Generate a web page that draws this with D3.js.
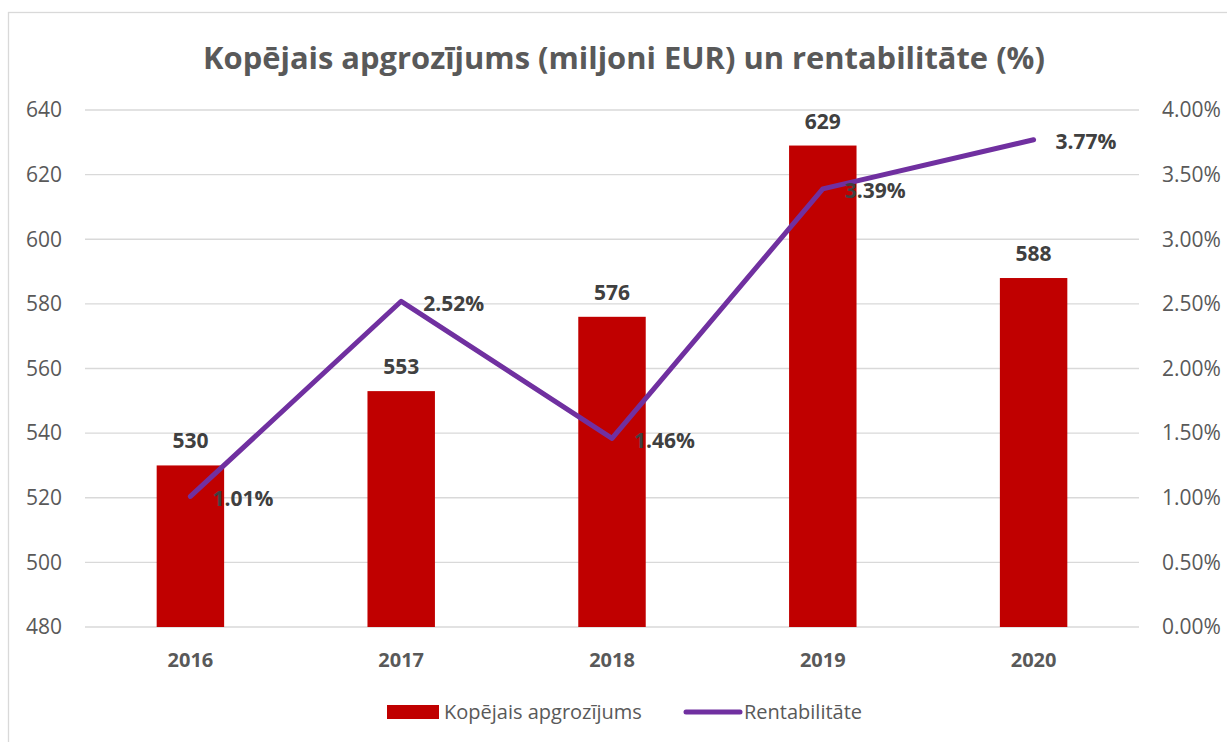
<!DOCTYPE html>
<html lang="lv">
<head>
<meta charset="UTF-8" />
<title>Kopējais apgrozījums un rentabilitāte</title>
<script src="https://d3js.org/d3.v7.min.js"></script>
<style>
  body { margin: 0; background: #fff; overflow: hidden; }
  text { font-family: "Open Sans", "DejaVu Sans", sans-serif; }
  .grid line { stroke: #d9d9d9; stroke-width: 1.3; }
  .tick-label { fill: #595959; font-size: 21px; }
  .cat-label { fill: #595959; font-size: 20px; font-weight: bold; }
  .data-label { fill: #404040; font-size: 21px; font-weight: bold; }
  .legend-label { fill: #595959; font-size: 20px; }
</style>
</head>
<body>
<svg width="1227" height="742"></svg>
<script>
const years = ["2016", "2017", "2018", "2019", "2020"];
const turnover = [530, 553, 576, 629, 588];
const profitability = [1.01, 2.52, 1.46, 3.39, 3.77];
const leftTicks = [480, 500, 520, 540, 560, 580, 600, 620, 640];
const rightTicks = [0, 0.5, 1, 1.5, 2, 2.5, 3, 3.5, 4];

const svg = d3.select("svg");
const plotL = 85, plotR = 1139, plotT = 110, plotB = 627;

// chart border
svg.append("rect")
  .attr("x", 8.5).attr("y", 12.5)
  .attr("width", 1240).attr("height", 760)
  .attr("fill", "none").attr("stroke", "#d9d9d9").attr("stroke-width", 1.3);

const x = d3.scaleBand().domain(years).range([plotL, plotR]).paddingInner(0.68).paddingOuter(0.34);
const yL = d3.scaleLinear().domain([480, 640]).range([plotB, plotT]);
const yR = d3.scaleLinear().domain([0, 4]).range([plotB, plotT]);
const cx = d => x(d) + x.bandwidth() / 2;

// gridlines
svg.append("g").attr("class", "grid")
  .selectAll("line").data(leftTicks).join("line")
  .attr("x1", plotL).attr("x2", plotR)
  .attr("y1", d => yL(d)).attr("y2", d => yL(d));

// left axis labels
svg.append("g").selectAll("text").data(leftTicks).join("text")
  .attr("class", "tick-label")
  .attr("x", 62).attr("y", d => yL(d))
  .attr("dy", "0.35em").attr("text-anchor", "end")
  .text(d => d);

// right axis labels
svg.append("g").selectAll("text").data(rightTicks).join("text")
  .attr("class", "tick-label")
  .attr("x", 1162).attr("y", d => yR(d))
  .attr("dy", "0.35em").attr("text-anchor", "start")
  .text(d => d3.format(".2f")(d) + "%");

// bars
svg.append("g").selectAll("rect").data(years).join("rect")
  .attr("x", d => x(d)).attr("width", x.bandwidth())
  .attr("y", (d, i) => yL(turnover[i]))
  .attr("height", (d, i) => yL(480) - yL(turnover[i]))
  .attr("fill", "#c00000");

// bar labels
svg.append("g").selectAll("text").data(years).join("text")
  .attr("class", "data-label")
  .attr("x", d => cx(d)).attr("y", (d, i) => yL(turnover[i]) - 17)
  .attr("text-anchor", "middle")
  .text((d, i) => turnover[i]);

// category labels
svg.append("g").selectAll("text").data(years).join("text")
  .attr("class", "cat-label")
  .attr("x", d => cx(d)).attr("y", 667)
  .attr("text-anchor", "middle")
  .text(d => d);

// profitability line
const line = d3.line().x(d => cx(d[0])).y(d => yR(d[1]));
svg.append("path")
  .datum(years.map((d, i) => [d, profitability[i]]))
  .attr("d", line)
  .attr("fill", "none").attr("stroke", "#7030a0")
  .attr("stroke-width", 5).attr("stroke-linecap", "round").attr("stroke-linejoin", "round");

// line labels
svg.append("g").selectAll("text").data(years).join("text")
  .attr("class", "data-label")
  .attr("x", d => cx(d) + 22).attr("y", (d, i) => yR(profitability[i]) + 2)
  .attr("dy", "0.35em")
  .text((d, i) => d3.format(".2f")(profitability[i]) + "%");

// title
const title = svg.append("text")
  .attr("x", 624).attr("y", 69)
  .attr("text-anchor", "middle")
  .attr("fill", "#595959").attr("font-weight", "bold").attr("font-size", 30)
  .text("Kopējais apgrozījums (miljoni EUR) un rentabilitāte (%)");
const tw = title.node().getComputedTextLength();
title.attr("font-size", 30 * 842 / tw);

// legend
const lg = svg.append("g");
lg.append("rect").attr("x", 387).attr("y", 705).attr("width", 52).attr("height", 14).attr("fill", "#c00000");
lg.append("text").attr("class", "legend-label").attr("x", 444).attr("y", 712).attr("dy", "0.35em")
  .text("Kopējais apgrozījums");
lg.append("line").attr("x1", 686).attr("x2", 740).attr("y1", 712).attr("y2", 712)
  .attr("stroke", "#7030a0").attr("stroke-width", 5).attr("stroke-linecap", "round");
lg.append("text").attr("class", "legend-label").attr("x", 744).attr("y", 712).attr("dy", "0.35em")
  .text("Rentabilitāte");
</script>
</body>
</html>
